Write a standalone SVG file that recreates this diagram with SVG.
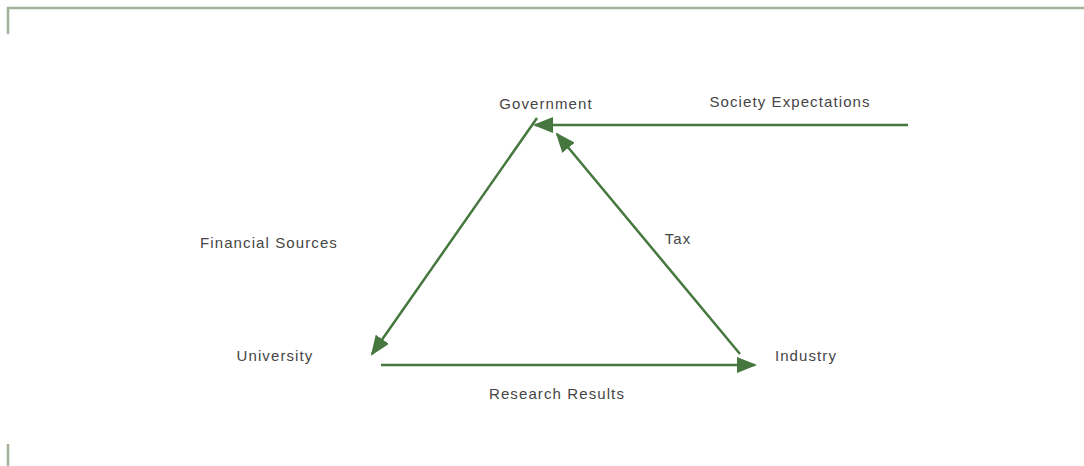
<svg xmlns="http://www.w3.org/2000/svg" width="1084" height="466" viewBox="0 0 1084 466">
<style>
.t{font-family:"Liberation Sans",Arial,sans-serif;font-size:15px;letter-spacing:1.1px;fill:#454545;text-anchor:middle}
.c{stroke:#46773f;stroke-width:2.5;fill:none;marker-end:url(#ah)}
.b{stroke:#a3b396;stroke-width:2.5;fill:none}
</style>
<defs>
<marker id="ah" markerUnits="userSpaceOnUse" viewBox="0 0 20 16" refX="18" refY="8" markerWidth="20" markerHeight="16" orient="auto">
<path d="M0,0 L20,8 L0,16 Z" fill="#46773f"/>
</marker>
</defs>
<path class="b" d="M8,34 V8 H1084"/>
<path class="b" d="M8,444 V466"/>
<g id="connectors">
<line class="c" x1="908" y1="125" x2="535" y2="125"/>
<line class="c" x1="537" y1="118" x2="372" y2="354"/>
<line class="c" x1="740" y1="354" x2="557" y2="134"/>
<line class="c" x1="381" y1="365" x2="755" y2="365"/>
</g>
<g id="government"><text class="t" x="546" y="109">Government</text></g>
<g id="society"><text class="t" x="790" y="107">Society Expectations</text></g>
<g id="financial"><text class="t" x="269" y="248">Financial Sources</text></g>
<g id="tax"><text class="t" x="678" y="244">Tax</text></g>
<g id="university"><text class="t" x="275" y="361">University</text></g>
<g id="industry"><text class="t" x="806" y="361">Industry</text></g>
<g id="research"><text class="t" x="557" y="399">Research Results</text></g>
</svg>
